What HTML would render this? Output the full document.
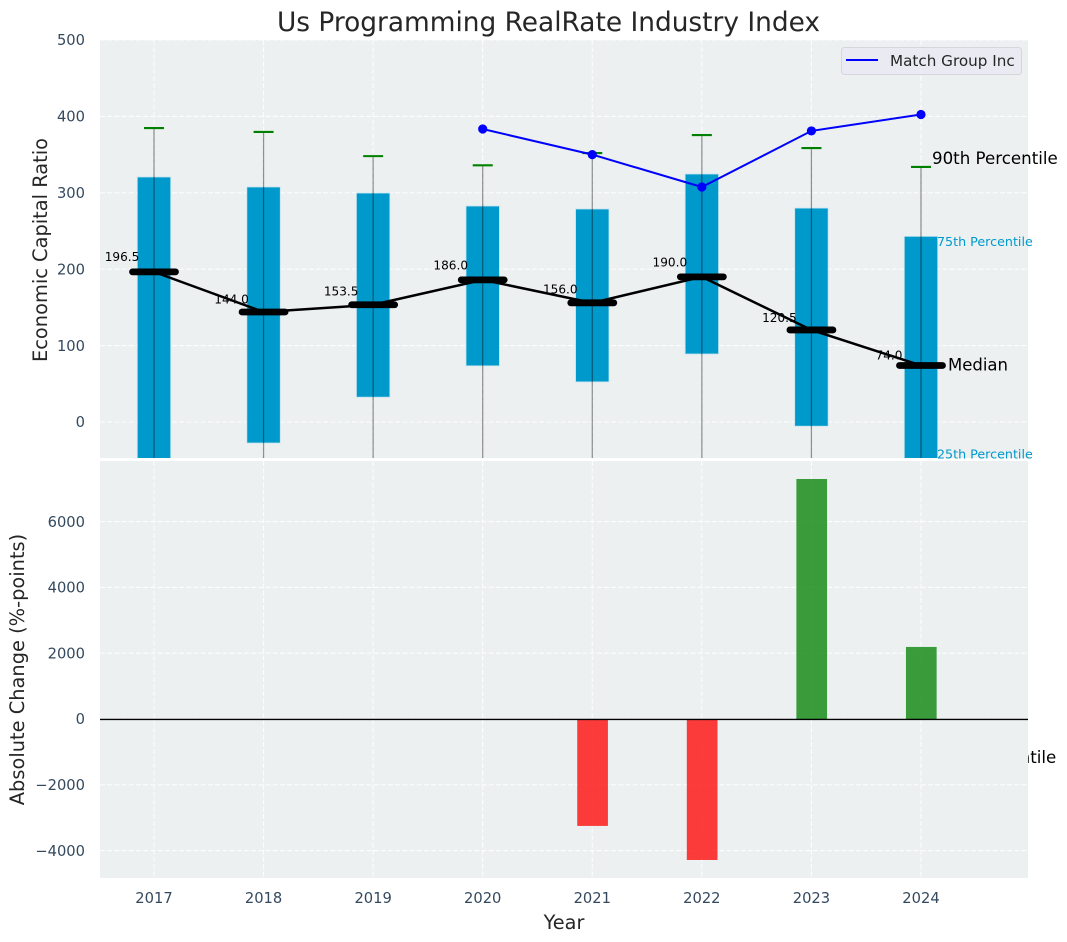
<!DOCTYPE html>
<html>
<head>
<meta charset="utf-8">
<title>Us Programming RealRate Industry Index</title>
<style>
html,body{margin:0;padding:0;background:#fff;width:1067px;height:942px;overflow:hidden}
svg{display:block}
text{font-family:"DejaVu Sans","Liberation Sans",sans-serif}
</style>
</head>
<body>
<svg id="chart" xmlns="http://www.w3.org/2000/svg" width="1067" height="942" viewBox="0 0 1067 942">
  <defs>
    <clipPath id="clip-top"><rect x="100" y="40" width="928" height="418"/></clipPath>
    <clipPath id="clip-bottom"><rect x="100" y="461" width="928" height="417"/></clipPath>
  </defs>
  <rect x="0" y="0" width="1067" height="942" fill="#fff"/>
  <text x="548.5" y="31" text-anchor="middle" font-size="26.4" fill="#262626">Us Programming RealRate Industry Index</text>
  <rect x="100" y="40" width="928" height="418" fill="#ecf0f1"/>
  <g id="top-grid"></g>
  <g id="top-marks" clip-path="url(#clip-top)"></g>
  <g id="top-ticks"></g>
  <g id="top-notes"></g>
  <text transform="translate(47,250) rotate(-90)" text-anchor="middle" font-size="19.4" fill="#262626">Economic Capital Ratio</text>
  <rect x="100" y="461" width="928" height="417" fill="#ecf0f1"/>
  <g id="bottom-grid"></g>
  <g id="bottom-marks" clip-path="url(#clip-bottom)"></g>
  <g id="bottom-ticks"></g>
  <g id="x-ticks"></g>
  <text transform="translate(24,669.5) rotate(-90)" text-anchor="middle" font-size="19.4" fill="#262626">Absolute Change (%-points)</text>
  <text x="564" y="929" text-anchor="middle" font-size="19.3" fill="#262626">Year</text>
  <g>
    <rect x="841.5" y="47.5" width="180" height="27" rx="3" fill="#eaeaf2" fill-opacity="0.9" stroke="#d5d5dc" stroke-width="1"/>
    <line x1="846" y1="60" x2="878" y2="60" stroke="#0000ff" stroke-width="2"/>
    <text x="890" y="66" font-size="15.2" fill="#262626">Match Group Inc</text>
  </g>
</svg>
<script>
var years = [2017, 2018, 2019, 2020, 2021, 2022, 2023, 2024];
var p90 = [384.8, 379.6, 348, 336, 352, 375.6, 358.6, 333.8];
var q3 = [320.7, 307.6, 299.7, 282.7, 278.8, 324.6, 280, 243];
var medians = [196.5, 144, 153.5, 186, 156, 190, 120.5, 74];
var q1 = [-60, -27.5, 32.5, 73.5, 52.5, 89, -5.5, -60];
var p10 = [-200, -250, -150, -120, -150, -130, -230, -450];
var medianLabels = ["196.5", "144.0", "153.5", "186.0", "156.0", "190.0", "120.5", "74.0"];
var companyValues = [null, null, null, 383.5, 350, 307.6, 381, 402.5];
var changes = [null, null, null, null, -3250, -4285, 7295, 2190];
var topTicks = [0, 100, 200, 300, 400, 500];
var bottomTicks = [-4000, -2000, 0, 2000, 4000, 6000];

var NS = 'http://www.w3.org/2000/svg';
var tickColor = '#34495e';
function xScale(year) { return 154 + (year - 2017) * 109.57; }
function yTop(v) { return 422 - v * 0.764; }
function yBottom(v) { return 719 - v * 0.0329; }
function make(tag, parent, attrs) {
  var el = document.createElementNS(NS, tag);
  for (var k in attrs) { el.setAttribute(k, attrs[k]); }
  parent.appendChild(el);
  return el;
}
function gridAttrs(x1, y1, x2, y2) {
  return { x1: x1, y1: y1, x2: x2, y2: y2, stroke: '#fff', 'stroke-width': 1.1, 'stroke-dasharray': '5 2.2', 'stroke-opacity': 0.85 };
}
var topGrid = document.getElementById('top-grid');
var topMarks = document.getElementById('top-marks');
var topTickGroup = document.getElementById('top-ticks');
var topNotes = document.getElementById('top-notes');
var bottomGrid = document.getElementById('bottom-grid');
var bottomMarks = document.getElementById('bottom-marks');
var bottomTickGroup = document.getElementById('bottom-ticks');
var xTickGroup = document.getElementById('x-ticks');

topTicks.forEach(function (t) {
  var g = make('line', topGrid, gridAttrs(100, yTop(t), 1028, yTop(t)));
  
  
  var label = make('text', topTickGroup, { x: 85, y: yTop(t) + 5.2, 'text-anchor': 'end', 'font-size': 14.7, fill: tickColor });
  label.textContent = String(t);
  
  
});
bottomTicks.forEach(function (t) {
  var g = make('line', bottomGrid, gridAttrs(100, yBottom(t), 1028, yBottom(t)));
  
  
  var label = make('text', bottomTickGroup, { x: 85, y: yBottom(t) + 5.2, 'text-anchor': 'end', 'font-size': 14.7, fill: tickColor });
  label.textContent = String(t).replace('-', '\u2212');
  
  
});
years.forEach(function (yr) {
  var x = xScale(yr);
  var g1 = make('line', topGrid, gridAttrs(x, 40, x, 458));
  
  
  var g2 = make('line', bottomGrid, gridAttrs(x, 461, x, 878));
  
  
  var label = make('text', xTickGroup, { x: x, y: 903, 'text-anchor': 'middle', 'font-size': 14.7, fill: tickColor });
  label.textContent = String(yr);
  
  
});

var barW = 0.305 * 109.57;
years.forEach(function (yr, i) {
  var x = xScale(yr);
  var box = make('rect', topMarks, {
    x: x - barW / 2, y: yTop(q3[i]), width: barW, height: yTop(q1[i]) - yTop(q3[i]),
    fill: '#0099cc', stroke: '#c4e4ee', 'stroke-width': 0.8
  });
  
  
  var whisker = make('line', topMarks, {
    x1: x, y1: yTop(p90[i]), x2: x, y2: yTop(p10[i]),
    stroke: '#000', 'stroke-width': 1.25, 'stroke-opacity': 0.42
  });
  
  
  var cap = make('line', topMarks, {
    x1: x - 10, y1: yTop(p90[i]), x2: x + 10, y2: yTop(p90[i]),
    stroke: '#008000', 'stroke-width': 2.1
  });
  
  
});

var medianPath = years.map(function (yr, i) {
  return (i ? 'L' : 'M') + xScale(yr) + ' ' + yTop(medians[i]);
}).join(' ');
var medianLine = make('path', topMarks, { d: medianPath, fill: 'none', stroke: '#000', 'stroke-width': 2.5 });



years.forEach(function (yr, i) {
  var x = xScale(yr);
  var y = yTop(medians[i]);
  var tick = make('line', topMarks, {
    x1: x - 21.5, y1: y, x2: x + 21.5, y2: y,
    stroke: '#000', 'stroke-width': 6.8, 'stroke-linecap': 'round'
  });
  
  
  var label = make('text', topMarks, { x: x - 32, y: yTop(medians[i] * 1.05 + 10) + 4.5, 'text-anchor': 'middle', 'font-size': 12.1, fill: '#000' });
  label.textContent = medianLabels[i];
  
  
});

var started = false;
var companyPath = '';
companyValues.forEach(function (v, i) {
  if (v === null) { return; }
  companyPath += (started ? 'L' : 'M') + xScale(years[i]) + ' ' + yTop(v) + ' ';
  started = true;
});
var companyLine = make('path', topMarks, { d: companyPath, fill: 'none', stroke: '#0000ff', 'stroke-width': 2 });


companyValues.forEach(function (v, i) {
  if (v === null) { return; }
  var dot = make('circle', topMarks, { cx: xScale(years[i]), cy: yTop(v), r: 4.6, fill: '#0000ff' });
  
  
});

var last = years.length - 1;
var lastX = xScale(years[last]);
var note90 = make('text', topNotes, { x: lastX + 11, y: yTop(p90[last]) - 3, 'font-size': 16.67, fill: '#000' });
note90.textContent = '90th Percentile';


var note75 = make('text', topNotes, { x: lastX + 16, y: yTop(q3[last]) + 9.8, 'font-size': 12.7, fill: '#0099cc' });
note75.textContent = '75th Percentile';


var noteMedian = make('text', topNotes, { x: lastX + 27, y: yTop(medians[last]) + 5, 'font-size': 16.5, fill: '#000' });
noteMedian.textContent = 'Median';


var note25 = make('text', topNotes, { x: lastX + 16, y: yTop(q1[last]) - 9.5, 'font-size': 12.7, fill: '#0099cc' });
note25.textContent = '25th Percentile';


var note10 = make('text', topNotes, { x: lastX + 9.5, y: yTop(p10[last]) - 3, 'font-size': 16.67, fill: '#000' });
note10.textContent = '10th Percentile';



var changeW = 0.28 * 109.57;
changes.forEach(function (v, i) {
  if (v === null) { return; }
  var x = xScale(years[i]);
  var y0 = yBottom(0);
  var y1 = yBottom(v);
  var bar = make('rect', bottomMarks, {
    x: x - changeW / 2 + 0.3, y: Math.min(y0, y1), width: changeW, height: Math.abs(y1 - y0),
    fill: v >= 0 ? '#008000' : '#ff0000', 'fill-opacity': 0.76
  });
  
  
});
var zero = make('line', bottomMarks, { x1: 100, y1: yBottom(0) + 0.4, x2: 1028, y2: yBottom(0) + 0.4, stroke: '#000', 'stroke-width': 1.4 });


</script>
</body>
</html>
